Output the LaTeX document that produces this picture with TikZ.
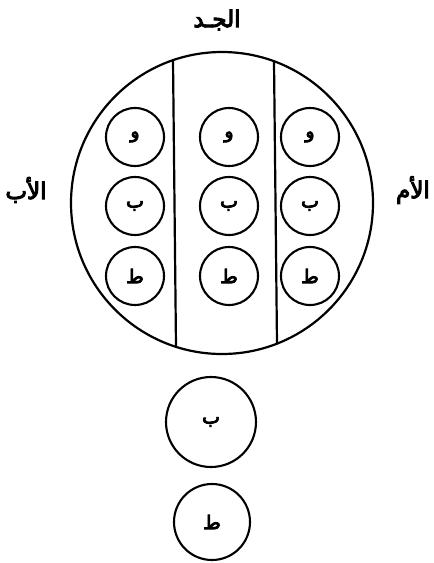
\documentclass[tikz,border=0pt]{standalone}
\usepackage{fontspec}
\TeXXeTstate=1
\newfontfamily\arabicfont[Script=Arabic,FakeBold=4.5]{DejaVu Sans}
\begin{document}
\begin{tikzpicture}[x=1pt,y=-1pt,
  ln/.style={line width=2.2pt},
  cell/.style={circle,draw,line width=2.1pt,minimum size=58pt,inner sep=0pt,font=\arabicfont\fontsize{19}{19}\selectfont},
  lbl/.style={font=\arabicfont\fontsize{23}{23}\selectfont,inner sep=0pt}]
\useasboundingbox (0,0) rectangle (434,563);
\node[circle,draw,ln,minimum size=302pt,inner sep=0pt] (big) at (222,203) {};
\coordinate (l1t) at (173,60.2);
\coordinate (l1b) at (176,346.8);
\coordinate (l2t) at (274,61.2);
\coordinate (l2b) at (277,343.6);
\draw[ln] (l1t) -- (l1b);
\draw[ln] (l2t) -- (l2b);
\foreach \c/\x in {a/135,b/229,c/310}{
  \node[cell] (\c1) at (\x,137) {\beginR و\endR};
  \node[cell] (\c2) at (\x,206) {\beginR ب\endR};
  \node[cell] (\c3) at (\x,276) {\beginR ط\endR};
}
\node[cell,minimum size=90pt] (bb) at (211,422) {\beginR ب\endR};
\node[cell,minimum size=76pt] (tt) at (212,522) {\beginR ط\endR};
\node[lbl] (jd) at (217,20) {\beginR الجـد\endR};
\node[lbl] (ab) at (26,190) {\beginR الأب\endR};
\node[lbl] (um) at (413,190) {\beginR الأم\endR};
\end{tikzpicture}
\end{document}
